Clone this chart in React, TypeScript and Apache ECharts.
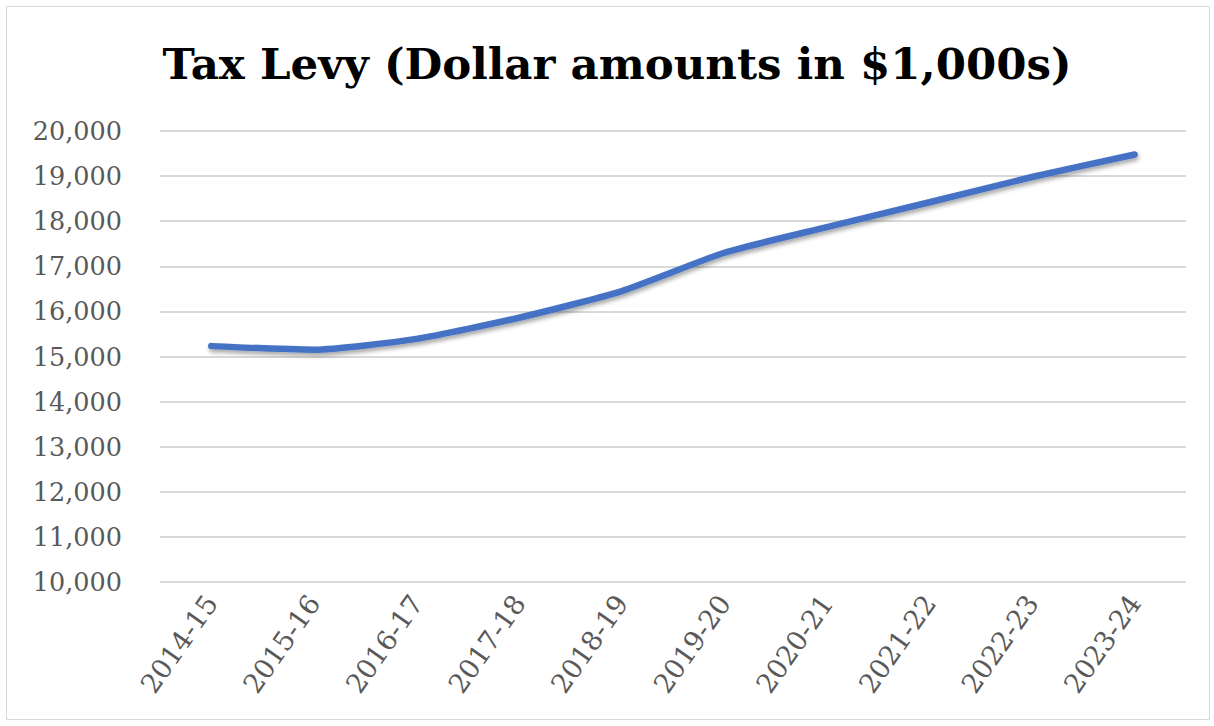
import React, { useEffect, useRef } from "react";
import * as echarts from "echarts";

const categories = ["2014-15", "2015-16", "2016-17", "2017-18", "2018-19", "2019-20", "2020-21", "2021-22", "2022-23", "2023-24"];
const levyValues = [15230, 15150, 15390, 15860, 16450, 17300, 17870, 18420, 18980, 19480];
const titleText = "Tax Levy (Dollar amounts in $1,000s)";
const yMin = 10000;
const yMax = 20000;
const yInterval = 1000;

export default function App() {
  const ref = useRef<HTMLDivElement>(null);
  useEffect(() => {
    if (!ref.current) return;
    const chart = echarts.init(ref.current, undefined, { renderer: "svg" });
    chart.setOption({
      animation: false,
      backgroundColor: "#ffffff",
      graphic: [
        {
          type: "rect",
          shape: { x: 6.5, y: 6.5, width: 1203, height: 713 },
          style: { fill: "none", stroke: "#d9d9d9", lineWidth: 1 },
          silent: true,
        },
        {
          type: "text",
          x: 617,
          y: 63,
          style: {
            text: titleText,
            fontFamily: "DejaVu Serif",
            fontWeight: "bold",
            fontSize: 43.5,
            fill: "#000000",
            align: "center",
            verticalAlign: "middle",
          },
          silent: true,
        },
      ],
      grid: { left: 160, right: 28, top: 131, bottom: 144 },
      xAxis: {
        type: "category",
        data: categories,
        boundaryGap: true,
        axisLine: { show: false },
        axisTick: { show: false },
        axisLabel: {
          rotate: 55,
          margin: 16,
          fontFamily: "DejaVu Serif",
          fontSize: 27,
          color: "#595959",
        },
      },
      yAxis: {
        type: "value",
        min: yMin,
        max: yMax,
        interval: yInterval,
        axisLine: { show: false },
        axisTick: { show: false },
        splitLine: { lineStyle: { color: "#d9d9d9", width: 2 } },
        axisLabel: {
          margin: 38,
          fontFamily: "DejaVu Serif",
          fontSize: 25.5,
          color: "#595959",
          formatter: (v: number) => v.toLocaleString("en-US"),
        },
      },
      series: [
        {
          type: "line",
          data: levyValues,
          smooth: 0.2,
          symbol: "none",
          lineStyle: {
            color: "#4472C4",
            width: 6.5,
            cap: "round",
            shadowColor: "rgba(0,0,0,0.35)",
            shadowBlur: 4,
            shadowOffsetY: 3,
            shadowOffsetX: 1,
          },
          itemStyle: { color: "#4472C4" },
        },
      ],
    });
    return () => chart.dispose();
  }, []);
  return (
    <div style={{ position: "fixed", left: 0, top: 0, width: 1214, height: 726, background: "#fff" }}>
      <div ref={ref} style={{ width: 1214, height: 726 }} />
    </div>
  );
}
